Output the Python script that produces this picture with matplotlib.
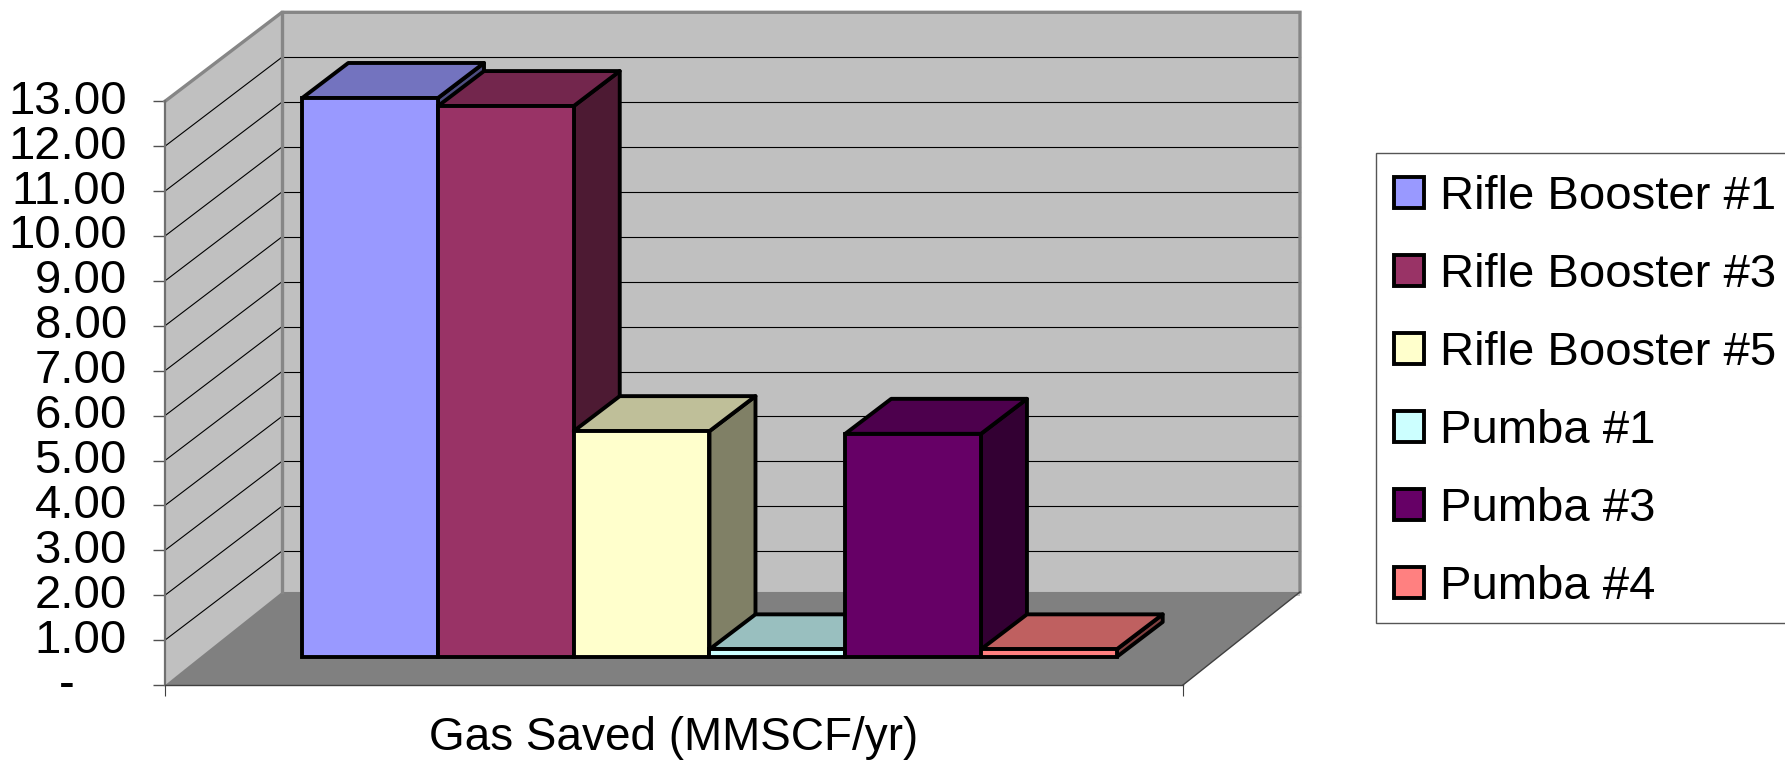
import matplotlib
matplotlib.use('Agg')
import matplotlib.pyplot as plt
from matplotlib.patches import Rectangle
from matplotlib.transforms import ScaledTranslation

plt.rcParams['font.family'] = ['Liberation Sans', 'DejaVu Sans']

# data
names = ['Rifle Booster #1', 'Rifle Booster #3', 'Rifle Booster #5', 'Pumba #1', 'Pumba #3', 'Pumba #4']
values = [12.45, 12.27, 5.03, 0.17, 4.97, 0.17]
y_ticks = list(range(14))
category = 'Gas Saved (MMSCF/yr)'

front_colors = ['#9999FF', '#993366', '#FFFFCC', '#CCFFFF', '#660066', '#FF8080']
top_colors = ['#7373BF', '#73264D', '#BFBF99', '#99BFBF', '#4D004D', '#BF6060']
side_colors = ['#4D4D80', '#4D1A33', '#808066', '#668080', '#330033', '#804040']

W, H = 1785, 761
# pixel layout of the front plane
x0_px, x1_px = 165, 1183
y0_px, unit_px = 685, 44.9
# how far the back of the box is shifted
depth_x_px, depth_y_px = 117, 89

fig = plt.figure(figsize=(W / 100, H / 100), dpi=100)
ax = fig.add_axes([0, 0, 1, 1])
span = x1_px - x0_px
ax.set_xlim(-x0_px / span, (W - x0_px) / span)
ax.set_ylim((y0_px - H) / unit_px, y0_px / unit_px)
ax.patch.set_visible(False)

dx = depth_x_px / span
dy = depth_y_px / unit_px


def proj(x, v, d):
    # oblique projection: d=0 front of the box, d=1 back wall
    return x + d * dx, v + d * dy


def poly(points, **kw):
    xs, ys = zip(*[proj(*p) for p in points])
    return ax.fill(xs, ys, **kw)


def line(points, **kw):
    xs, ys = zip(*[proj(*p) for p in points])
    return ax.plot(xs, ys, **kw)


top = y_ticks[-1]
# walls and floor
poly([(0, 0, 1), (1, 0, 1), (1, top, 1), (0, top, 1)], color='#C0C0C0', lw=0, zorder=1)
poly([(0, 0, 0), (0, 0, 1), (0, top, 1), (0, top, 0)], color='#C0C0C0', lw=0, zorder=1)
for v in y_ticks[1:-1]:
    line([(0, v, 0), (0, v, 1)], color='black', lw=0.8, zorder=1.2)
for v in y_ticks[1:]:
    line([(0, v, 1), (1, v, 1)], color='black', lw=0.8, zorder=1.2)
poly([(0, 0, 0), (1, 0, 0), (1, 0.09, 1), (0, 0.09, 1)], color='#808080', lw=0, zorder=1.5)
line([(0, top, 0), (0, top, 1), (1, top, 1), (1, 0.09, 1)], color='#868686', lw=2.4, zorder=1.6,
     solid_joinstyle='miter')
line([(0, 0.09, 1), (0, top, 1)], color='#868686', lw=2.4, zorder=1.6)
line([(1, 0, 0), (1, 0.09, 1)], color='#404040', lw=1, zorder=1.6)

# bars
gap = 0.74
bar_w = 1 / (len(values) + 2 * 0.75)
bar_d0 = 0.315
bar_d1 = bar_d0 + 0.393
edge = dict(edgecolor='black', linewidth=2.8)
for i, val in enumerate(values):
    xa = gap * bar_w + i * bar_w
    xb = xa + bar_w
    z = 3 + i
    poly([(xb, 0, bar_d0), (xb, 0, bar_d1), (xb, val, bar_d1), (xb, val, bar_d0)],
         facecolor=side_colors[i], joinstyle='round', zorder=z, **edge)
    poly([(xa, val, bar_d0), (xb, val, bar_d0), (xb, val, bar_d1), (xa, val, bar_d1)],
         facecolor=top_colors[i], joinstyle='round', zorder=z, **edge)
    fx, fy = proj(xa, 0, bar_d0)
    ax.bar(fx, val, bar_w, bottom=fy, align='edge', color=front_colors[i], label=names[i],
           joinstyle='miter', zorder=z + 0.5, **edge)

# axis lines
for s in ['top', 'right']:
    ax.spines[s].set_visible(False)
ax.spines['left'].set_position(('data', 0))
ax.spines['left'].set_bounds(0, top)
ax.spines['left'].set_color('#707070')
ax.spines['left'].set_linewidth(1.6)
ax.spines['bottom'].set_position(('data', 0))
ax.spines['bottom'].set_bounds(0, 1)
ax.spines['bottom'].set_color('#404040')
ax.spines['bottom'].set_linewidth(1)
ax.set_xticks([0, 1], ['', ''])
ax.tick_params(axis='x', length=8, width=0.8, color='#404040')
ax.set_yticks(y_ticks, ['-    '] + [f'{v:.2f}' for v in y_ticks[1:]])
ax.tick_params(axis='y', length=8.5, width=1, color='#505050', pad=19, labelsize=34)
shift = ScaledTranslation(0, 4.5 / 100, fig.dpi_scale_trans)
for lab in ax.get_yticklabels():
    lab.set_transform(lab.get_transform() + shift)

ax.text(0.5, (y0_px - 738) / unit_px, category, ha='center', va='center', fontsize=33)

# legend box runs off the right edge of the picture, so it is drawn on its own
fig.add_artist(Rectangle((1375.5 / W, 1 - 622.7 / H), 430 / W, 470 / H, transform=fig.transFigure,
                         facecolor='white', edgecolor='#555555', linewidth=1, zorder=-1))
leg = ax.legend(loc='upper left', bbox_to_anchor=(1376.5 / W, 1 - 157.3 / H),
                bbox_transform=fig.transFigure, borderaxespad=0, fontsize=34,
                frameon=False,
                handlelength=0.635, handleheight=0.635, handletextpad=0.34,
                borderpad=0.37, labelspacing=0.72)
leg.set_zorder(20)

fig.savefig('out.png', dpi=100)
